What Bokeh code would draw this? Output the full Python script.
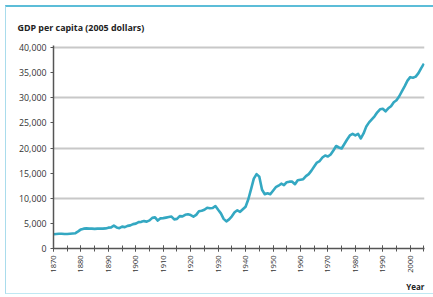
import numpy as np
from bokeh.plotting import figure
from bokeh.models import (ColumnDataSource, FixedTicker, NumeralTickFormatter,
                          Title, Range1d)
from bokeh.embed import file_html
from bokeh.resources import INLINE

# ---- data ----
years = list(range(1870, 2006))
gdp_per_capita = [
    2850, 2900, 2950, 2950, 2900, 2900, 2950, 3000, 3050, 3400,      # 1870s
    3800, 3950, 4000, 3950, 3950, 3900, 3950, 3950, 3950, 4000,      # 1880s
    4150, 4200, 4550, 4200, 4050, 4350, 4250, 4500, 4600, 4850,      # 1890s
    4950, 5250, 5300, 5450, 5350, 5600, 6100, 6200, 5550, 6000,      # 1900s
    6050, 6150, 6250, 6350, 5800, 5900, 6450, 6400, 6700, 6800,      # 1910s
    6650, 6350, 6700, 7400, 7500, 7700, 8100, 8000, 8050, 8450,      # 1920s
    7700, 7000, 5900, 5400, 5800, 6400, 7200, 7600, 7300, 7800,      # 1930s
    8300, 9800, 11800, 13900, 14800, 14300, 11700, 10800, 11000, 10800,  # 1940s
    11500, 12200, 12500, 12900, 12600, 13200, 13300, 13300, 12800, 13600,  # 1950s
    13700, 13800, 14400, 14800, 15500, 16300, 17100, 17400, 18100, 18500,  # 1960s
    18300, 18700, 19500, 20400, 20100, 19900, 20800, 21700, 22500, 22800,  # 1970s
    22500, 22800, 21900, 22900, 24300, 25100, 25700, 26300, 27100, 27700,  # 1980s
    27800, 27300, 27900, 28300, 29100, 29500, 30300, 31300, 32300, 33400,  # 1990s
    34100, 34000, 34200, 34900, 35900, 36800,                           # 2000s
]
x_major_ticks = list(range(1870, 2001, 10))
x_minor_ticks = list(range(1870, 2006, 5))
y_ticks = list(range(0, 40001, 5000))
grid_values = [10000, 20000, 30000, 40000]

title_text = "GDP per capita (2005 dollars)"
x_title = "Year"

source = ColumnDataSource(data=dict(year=years, gdp=gdp_per_capita))

p = figure(width=428, height=289, output_backend="svg", toolbar_location=None,
           x_range=Range1d(1870, 2005.2), y_range=Range1d(0, 40400),
           min_border_left=47, min_border_right=10, min_border_top=38,
           min_border_bottom=48)
p.outline_line_color = None
p.background_fill_color = "white"
p.border_fill_color = None
p.styles = {"margin-left": "5px", "margin-top": "5px",
            "border-top": "2px solid #5cbdd8",
            "border-left": "1px solid #a9dcec",
            "border-bottom": "1px solid #bfe8f3"}

p.line("year", "gdp", source=source, line_color="#34a8c2", line_width=2.6,
       line_join="round")

# grid
p.xgrid.visible = False
p.ygrid.ticker = FixedTicker(ticks=grid_values)
p.ygrid.grid_line_color = "#c8c8c8"
p.ygrid.grid_line_width = 2

# x axis
xa = p.xaxis[0]
xa.ticker = FixedTicker(ticks=x_major_ticks, minor_ticks=x_minor_ticks)
xa.axis_line_color = "#555555"
xa.axis_line_width = 1.5
xa.major_tick_in = 3
xa.major_tick_out = 3
xa.minor_tick_in = 3
xa.minor_tick_out = 3
xa.major_tick_line_color = "#555555"
xa.minor_tick_line_color = "#555555"
xa.major_label_orientation = np.pi / 2
xa.major_label_text_font = "Open Sans"
xa.major_label_text_font_size = "7.5px"
xa.major_label_text_color = "#333333"
xa.major_label_standoff = 4

# y axis
ya = p.yaxis[0]
ya.ticker = FixedTicker(ticks=y_ticks)
ya.formatter = NumeralTickFormatter(format="0,0")
ya.axis_line_color = "#555555"
ya.axis_line_width = 1.5
ya.major_tick_in = 0
ya.major_tick_out = 3
ya.minor_tick_line_color = None
ya.major_tick_line_color = "#555555"
ya.major_label_text_font = "Open Sans"
ya.major_label_text_font_size = "8.8px"
ya.major_label_text_color = "#333333"
ya.major_label_standoff = 4

top_title = Title(text=title_text, align="left", offset=-36,
                  text_font="Open Sans", text_font_style="bold",
                  text_font_size="8.9px", text_color="#222222",
                  standoff=23)
p.add_layout(top_title, "above")
bottom_title = Title(text=x_title, align="right", offset=0,
                     text_font="Open Sans", text_font_style="bold",
                     text_font_size="8px", text_color="#222222",
                     standoff=6)
p.add_layout(bottom_title, "below")

open("out.html", "w").write(file_html(p, INLINE))
